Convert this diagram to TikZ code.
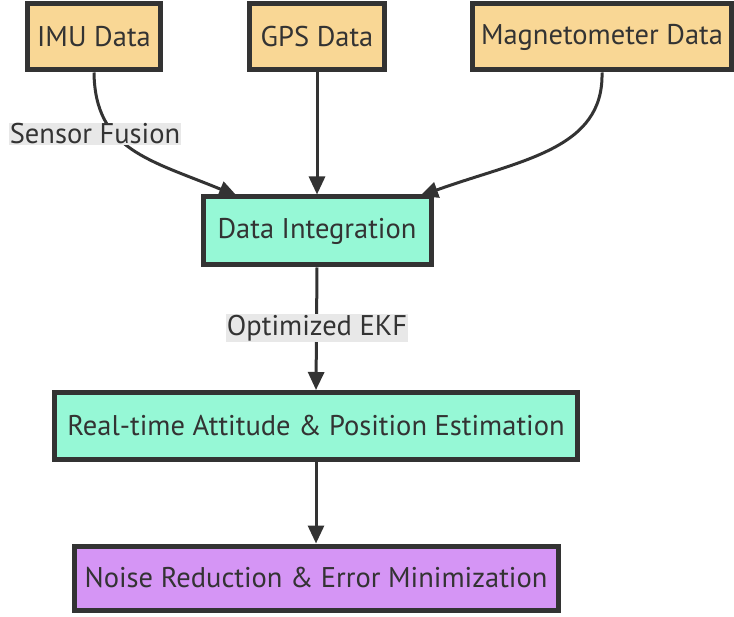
\documentclass[tikz,border=0pt]{standalone}
\usepackage{fontspec}
\setmainfont{PT Sans}
\usetikzlibrary{arrows.meta}
\definecolor{inkgray}{HTML}{333333}
\definecolor{sensorfill}{HTML}{F9D795}
\definecolor{stagefill}{HTML}{96F8D6}
\definecolor{finalfill}{HTML}{D595F5}
\definecolor{tagfill}{HTML}{E8E8E8}

\begin{document}
\begin{tikzpicture}
	[x=1pt, y=-1pt,
	box/.style={draw = inkgray, line width = 5pt, inner sep = 0pt, text = inkgray,
		font = \fontsize{28.5}{32}\selectfont},
	sensor/.style={box, fill = sensorfill, minimum height = 66pt},
	stage/.style={box, fill = stagefill},
	final/.style={box, fill = finalfill},
	tag/.style={fill = tagfill, text = inkgray, inner sep = 1pt,
		font = \fontsize{28.5}{32}\selectfont},
	flow/.style={-{Triangle[length = 18pt, width = 16pt]}, line width = 3pt, draw = inkgray}]
	\useasboundingbox (0, 0) rectangle (734, 617);

	\node[sensor, minimum width = 133pt] (imu) at (94, 37) {IMU Data};
	\node[sensor, minimum width = 135pt] (gps) at (317, 37) {GPS Data};
	\node[sensor, minimum width = 259pt] (mag) at (602, 37) {Magnetometer Data};

	\node[stage, minimum width = 228pt, minimum height = 68pt] (fuse) at (317, 231) {Data Integration};
	\node[stage, minimum width = 523pt, minimum height = 67pt] (estimate) at (316, 426) {Real-time Attitude \& Position Estimation};
	\node[final, minimum width = 484pt, minimum height = 64pt] (denoise) at (316, 578) {Noise Reduction \& Error Minimization};

	\coordinate (fuseleft) at (237, 196);
	\coordinate (fuseright) at (420, 196);

	\draw[flow] (imu.south) .. controls (95, 150) and (150, 160) .. (fuseleft);
	\draw[flow] (gps.south) -- (fuse.north);
	\draw[flow] (mag.south) .. controls (604, 150) and (520, 160) .. (fuseright);
	\draw[flow] (fuse.south) -- (estimate.north);
	\draw[flow] (estimate.south) -- (denoise.north);

	\node[tag] (fusiontag) at (95, 134) {Sensor Fusion};
	\node[tag] (ekftag) at (317, 328) {Optimized EKF};
\end{tikzpicture}
\end{document}
